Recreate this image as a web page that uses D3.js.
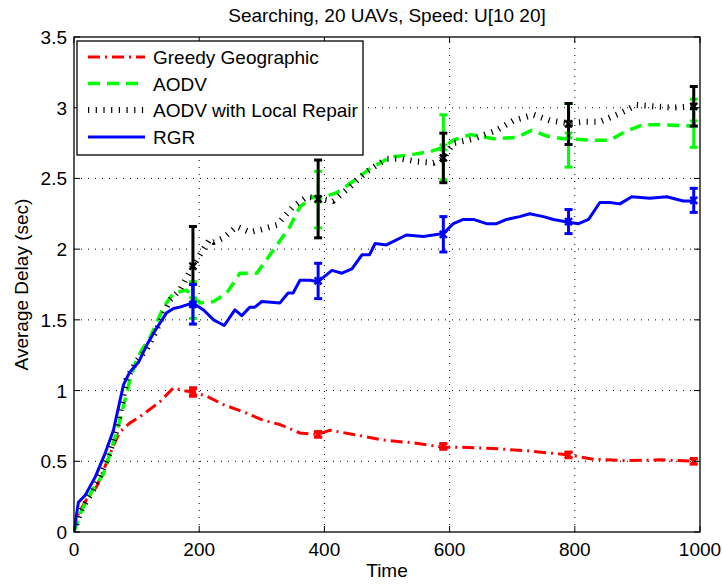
<!DOCTYPE html>
<html><head><meta charset="utf-8">
<script src="https://cdn.jsdelivr.net/npm/d3@7/dist/d3.min.js"></script>
<style>body{margin:0;background:#fff} text{font-family:"Liberation Sans",Arial,Helvetica,sans-serif;fill:#000}</style>
</head><body><svg id="c" width="722" height="584"></svg>
<script>
const titleText="Searching, 20 UAVs, Speed: U[10 20]";
const xLabel="Time", yLabel="Average Delay (sec)";
const xTicks=[0,200,400,600,800,1000];
const yTicks=[0,0.5,1,1.5,2,2.5,3,3.5];
const seriesNames=["Greedy Geographic","AODV","AODV with Local Repair","RGR"];

const greedyT=[0,7,20,36,52,65,72,79,89,100,116,137,159,175,190,212,239,276,302,329,361,390,409,446,494,542,590,617,670,723,790,830,883,936,990];
const greedyV=[0,0.13,0.23,0.32,0.49,0.63,0.70,0.73,0.77,0.80,0.85,0.92,1.02,1.00,0.99,0.96,0.90,0.84,0.79,0.76,0.70,0.69,0.72,0.69,0.65,0.63,0.60,0.60,0.59,0.575,0.545,0.515,0.505,0.51,0.50];

const aodvT=[0,10,20,30,47,57,68,79,89,100,110,121,143,159,180,190,201,223,244,265,292,318,345,361,382,393,420,446,473,505,542,569,590,606,633,670,707,731,755,782,790,824,856,880,909,941,990];
const aodvV=[0,0.13,0.22,0.30,0.41,0.55,0.70,0.89,1.07,1.22,1.30,1.37,1.59,1.69,1.71,1.66,1.62,1.63,1.69,1.83,1.83,1.99,2.16,2.30,2.37,2.36,2.40,2.48,2.57,2.65,2.67,2.69,2.72,2.77,2.81,2.78,2.79,2.84,2.80,2.78,2.78,2.77,2.77,2.83,2.88,2.88,2.87];

const repairT=[0,10,20,30,40,50,57,68,84,100,116,132,153,169,180,190,204,217,223,239,260,281,300,324,350,372,390,414,441,468,500,521,547,574,590,606,638,675,702,734,760,790,814,840,872,899,925,957,990];
const repairV=[0,0.14,0.22,0.29,0.38,0.48,0.56,0.72,1.08,1.21,1.29,1.43,1.64,1.71,1.80,1.88,1.98,2.07,2.05,2.08,2.16,2.12,2.14,2.17,2.30,2.37,2.36,2.34,2.44,2.55,2.64,2.64,2.62,2.61,2.64,2.75,2.78,2.84,2.91,2.95,2.91,2.89,2.90,2.90,2.96,3.02,3.01,3.00,3.01];

const rgrT=[0,7,18,34,50,63,79,89,103,116,129,148,159,169,190,207,223,240,257,268,281,289,300,329,342,350,361,377,390,412,428,444,460,472,481,499,531,558,590,606,622,638,659,675,691,712,728,750,766,790,806,822,840,856,872,891,920,947,973,990];
const rgrV=[0,0.21,0.26,0.39,0.56,0.72,1.04,1.13,1.20,1.32,1.42,1.55,1.58,1.59,1.62,1.57,1.50,1.46,1.57,1.53,1.59,1.59,1.63,1.62,1.69,1.69,1.78,1.78,1.77,1.85,1.83,1.86,1.96,1.96,2.04,2.03,2.10,2.09,2.11,2.18,2.21,2.21,2.18,2.18,2.21,2.23,2.25,2.23,2.21,2.19,2.18,2.21,2.33,2.33,2.32,2.37,2.36,2.37,2.34,2.34];

const errT=[190,390,590,790,990];
const greedyErrMean=[0.99,0.69,0.605,0.545,0.50];
const greedyErrHalf=[0.03,0.02,0.02,0.02,0.02];
const aodvErrMean=[1.64,2.35,2.72,2.805,2.89];
const aodvErrHalf=[0.13,0.20,0.23,0.225,0.17];
const repairErrMean=[1.88,2.355,2.645,2.885,3.01];
const repairErrHalf=[0.28,0.275,0.175,0.145,0.14];
const rgrErrMean=[1.61,1.775,2.105,2.195,2.345];
const rgrErrHalf=[0.14,0.125,0.125,0.085,0.085];

const svg=d3.select("#c");
const L=74,R=700,T=37,B=532;
const x=d3.scaleLinear().domain([0,1000]).range([L,R]);
const y=d3.scaleLinear().domain([0,3.5]).range([B,T]);

// grid
const g=svg.append("g");
g.selectAll(".gx").data(xTicks.filter(d=>d>0&&d<1000)).enter().append("line")
 .attr("x1",d=>x(d)).attr("x2",d=>x(d)).attr("y1",B).attr("y2",T)
 .attr("stroke","#000").attr("stroke-width",1).attr("stroke-dasharray","1,6");
g.selectAll(".gy").data(yTicks.filter(d=>d>0&&d<3.5)).enter().append("line")
 .attr("y1",d=>y(d)).attr("y2",d=>y(d)).attr("x1",L).attr("x2",R)
 .attr("stroke","#000").attr("stroke-width",1).attr("stroke-dasharray","1,6");

svg.append("defs").append("clipPath").attr("id","clip").append("rect")
 .attr("x",L).attr("y",T).attr("width",R-L).attr("height",B-T);

const styles=[
 {T:greedyT,V:greedyV,em:greedyErrMean,eh:greedyErrHalf,color:"#ff0000",w:3,dash:"12,5,2,5"},
 {T:aodvT,V:aodvV,em:aodvErrMean,eh:aodvErrHalf,color:"#00ff00",w:3.5,dash:"12,7"},
 {T:repairT,V:repairV,em:repairErrMean,eh:repairErrHalf,color:"#000000",w:6,dash:"1.2,6.5"},
 {T:rgrT,V:rgrV,em:rgrErrMean,eh:rgrErrHalf,color:"#0000ff",w:3,dash:null}
];
const line=d3.line().x(d=>x(d[0])).y(d=>y(d[1]));
const plot=svg.append("g").attr("clip-path","url(#clip)");
styles.forEach((s,i)=>{
  const pts=s.T.map((t,k)=>[t,s.V[k]]);
  const p=plot.append("path").datum(pts).attr("d",line).attr("fill","none")
   .attr("stroke",s.color).attr("stroke-width",s.w).attr("stroke-linejoin","round");
  if(s.dash) p.attr("stroke-dasharray",s.dash);
  const eb=plot.append("g");
  errT.forEach((t,k)=>{
    const cx=x(t), y1=y(s.em[k]+s.eh[k]), y0=y(s.em[k]-s.eh[k]), cy=y(s.em[k]);
    const ec=s.color, ew=3;
    eb.append("line").attr("x1",cx).attr("x2",cx).attr("y1",y1).attr("y2",y0).attr("stroke",ec).attr("stroke-width",ew);
    eb.append("line").attr("x1",cx-4).attr("x2",cx+4).attr("y1",y1).attr("y2",y1).attr("stroke",ec).attr("stroke-width",ew);
    eb.append("line").attr("x1",cx-4).attr("x2",cx+4).attr("y1",y0).attr("y2",y0).attr("stroke",ec).attr("stroke-width",ew);
    eb.append("path").attr("d",`M${cx-3.5},${cy-3.5}L${cx+3.5},${cy+3.5}M${cx-3.5},${cy+3.5}L${cx+3.5},${cy-3.5}`)
      .attr("stroke",ec).attr("stroke-width",2.5);
  });
});

// axes box and ticks
svg.append("rect").attr("x",L).attr("y",T).attr("width",R-L).attr("height",B-T)
 .attr("fill","none").attr("stroke","#000").attr("stroke-width",1.3);
const ax=svg.append("g");
xTicks.forEach(d=>{
  ax.append("line").attr("x1",x(d)).attr("x2",x(d)).attr("y1",B).attr("y2",B-6).attr("stroke","#000");
  ax.append("line").attr("x1",x(d)).attr("x2",x(d)).attr("y1",T).attr("y2",T+6).attr("stroke","#000");
  ax.append("text").attr("x",x(d)).attr("y",556).attr("text-anchor","middle").attr("font-size",19).text(d);
});
yTicks.forEach(d=>{
  ax.append("line").attr("x1",L).attr("x2",L+6).attr("y1",y(d)).attr("y2",y(d)).attr("stroke","#000");
  ax.append("line").attr("x1",R).attr("x2",R-6).attr("y1",y(d)).attr("y2",y(d)).attr("stroke","#000");
  ax.append("text").attr("x",67).attr("y",y(d)+7).attr("text-anchor","end").attr("font-size",19).text(d);
});
svg.append("text").attr("x",(L+R)/2).attr("y",577).attr("text-anchor","middle").attr("font-size",19).text(xLabel);
svg.append("text").attr("transform",`translate(28,${(T+B)/2}) rotate(-90)`).attr("text-anchor","middle").attr("font-size",19).text(yLabel);
svg.append("text").attr("x",(L+R)/2).attr("y",22).attr("text-anchor","middle").attr("font-size",19).text(titleText);

// legend
const lg=svg.append("g");
lg.append("rect").attr("x",77).attr("y",41).attr("width",286).attr("height",114).attr("fill","#fff").attr("stroke","#000").attr("stroke-width",1.3);
const ly=[57,83.5,110,137];
styles.forEach((s,i)=>{
  const l=lg.append("line").attr("x1",88).attr("x2",145).attr("y1",ly[i]).attr("y2",ly[i])
   .attr("stroke",s.color).attr("stroke-width",s.w);
  if(s.dash) l.attr("stroke-dasharray",s.dash);
  lg.append("text").attr("x",153).attr("y",ly[i]+7).attr("font-size",19).text(seriesNames[i]);
});
</script></body></html>
